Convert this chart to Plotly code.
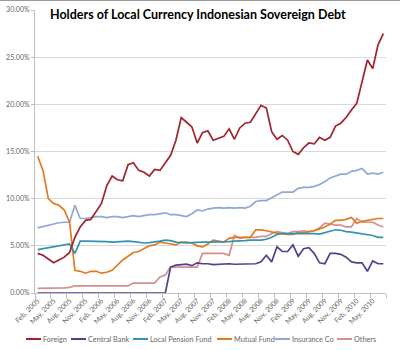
import plotly.graph_objects as go

# ---------------- data (percent of total holdings) ----------------
month_names = ["Jan", "Feb", "Mar", "Apr", "May", "Jun", "Jul", "Aug", "Sep", "Oct", "Nov", "Dec"]
months = []
for k in range(66):
    m = (1 + k) % 12
    y = 2005 + (1 + k) // 12
    months.append(f"{month_names[m]}, {y}")

foreign = [4.2, 4.0, 3.6, 3.2, 3.5, 3.8, 4.3, 5.9, 7.0, 7.7, 7.8, 8.6, 9.5, 11.4, 12.4, 12.0,
           11.9, 13.6, 13.8, 13.0, 12.8, 12.4, 13.1, 13.0, 13.8, 14.6, 16.2, 18.6, 18.1, 17.6,
           15.9, 17.0, 17.2, 16.2, 16.4, 16.6, 17.4, 16.3, 17.5, 18.0, 18.1, 19.0, 19.9, 19.6,
           17.1, 16.3, 16.7, 16.2, 15.0, 14.7, 15.4, 15.9, 15.8, 16.5, 16.2, 16.5, 17.7, 18.0,
           18.6, 19.4, 20.1, 22.4, 24.7, 23.8, 26.3, 27.5]
central_bank = [0.0] * 25 + [2.75, 2.95, 3.0, 3.05, 2.9, 3.2, 3.1, 3.1, 3.0, 3.05, 3.1, 3.1,
                             3.05, 3.05, 3.1, 3.1, 3.1, 3.3, 4.0, 3.3, 4.9, 4.4, 4.4, 5.1, 3.9,
                             4.7, 4.8, 4.2, 3.2, 3.1, 4.2, 4.2, 4.1, 3.8, 3.3, 3.2, 3.2, 2.3,
                             3.4, 3.1, 3.1]
local_pension = [4.6, 4.7, 4.8, 4.9, 5.0, 5.1, 5.2, 4.2, 5.5, 5.5, 5.5, 5.5, 5.45, 5.45, 5.4,
                 5.45, 5.5, 5.5, 5.45, 5.4, 5.3, 5.35, 5.4, 5.5, 5.6, 5.55, 5.4, 5.35, 5.3,
                 5.35, 5.4, 5.4, 5.4, 5.4, 5.4, 5.45, 5.45, 5.5, 5.5, 5.55, 5.6, 5.6, 5.6, 5.7,
                 5.9, 6.2, 6.3, 6.3, 6.3, 6.35, 6.35, 6.35, 6.3, 6.25, 6.4, 6.55, 6.7, 6.65,
                 6.5, 6.45, 6.35, 6.3, 6.2, 6.1, 5.9, 5.9]
mutual_fund = [14.5, 13.0, 10.0, 9.5, 9.3, 8.8, 7.5, 2.4, 2.3, 2.1, 2.3, 2.3, 2.1, 2.2, 2.4,
               3.0, 3.5, 3.9, 4.3, 4.4, 4.7, 5.0, 5.1, 5.4, 5.3, 5.2, 5.1, 5.4, 5.4, 5.3, 5.0,
               4.9, 5.2, 5.6, 5.5, 5.4, 5.8, 5.9, 5.9, 5.9, 5.9, 6.7, 6.7, 6.6, 6.45, 6.35,
               6.3, 6.2, 6.2, 6.4, 6.4, 6.5, 6.6, 6.8, 7.0, 7.3, 7.7, 7.7, 7.8, 8.0, 7.4, 7.6,
               7.7, 7.8, 7.9, 7.9]
insurance = [6.9, 7.05, 7.2, 7.35, 7.45, 7.5, 7.5, 9.3, 7.9, 7.9, 8.0, 8.1, 8.1, 8.0, 8.1,
             8.1, 8.0, 8.1, 8.2, 8.1, 8.2, 8.3, 8.3, 8.4, 8.5, 8.3, 8.3, 8.2, 8.1, 8.4, 8.8,
             8.7, 8.9, 9.0, 9.05, 9.0, 9.05, 9.0, 9.05, 9.0, 9.2, 9.7, 9.8, 9.8, 10.1, 10.4,
             10.7, 10.7, 10.7, 11.1, 11.2, 11.2, 11.3, 11.5, 11.8, 12.2, 12.4, 12.6, 12.6,
             12.9, 13.0, 13.2, 12.6, 12.7, 12.6, 12.8]
others = [0.5, 0.5, 0.5, 0.5, 0.5, 0.55, 0.6, 0.75, 0.75, 0.75, 0.75, 0.75, 0.75, 0.75, 0.75,
          0.75, 0.75, 0.75, 1.05, 1.05, 1.05, 1.05, 1.05, 1.7, 1.9, 2.75, 2.75, 2.8, 2.75,
          2.75, 2.75, 4.2, 4.2, 4.2, 4.2, 4.2, 4.0, 6.1, 5.8, 5.9, 5.9, 5.9, 6.0, 6.0, 6.3,
          6.5, 6.4, 6.3, 6.5, 6.5, 6.6, 6.5, 6.6, 6.9, 7.4, 7.3, 7.2, 7.2, 7.0, 7.0, 7.9,
          7.5, 7.5, 7.5, 7.2, 7.0]

series_names = ["Foreign", "Central Bank", "Local Pension Fund", "Mutual Fund", "Insurance Co", "Others"]
series_values = [foreign, central_bank, local_pension, mutual_fund, insurance, others]
colors = ["#A1232B", "#54408C", "#2F95B0", "#E47A1E", "#8EA9D6", "#D4908F"]
tick_labels = months[::3]
y_ticks = [0, 0.05, 0.10, 0.15, 0.20, 0.25, 0.30]

# ---------------- figure ----------------
W, H = 400, 350
x_idx = list(range(len(months)))

fig = go.Figure()
# draw in an order so foreign stays on top
draw_order = [4, 5, 3, 2, 1, 0]
for i in draw_order:
    fig.add_trace(go.Scatter(
        x=x_idx, y=[v / 100 for v in series_values[i]], mode="lines",
        name=series_names[i], line=dict(color=colors[i], width=1.7),
        showlegend=False,
        customdata=months, hovertemplate="%{customdata}: %{y:.2%}<extra>" + series_names[i] + "</extra>",
    ))

plot_l, plot_r, plot_t, plot_b = 35, 386, 10, 293
fig.update_layout(
    width=W, height=H,
    margin=dict(l=0, r=0, t=0, b=0),
    paper_bgcolor="white", plot_bgcolor="white",
    font=dict(family="Lato, 'Open Sans', sans-serif", color="#595959"),
    title=dict(text="<b>Holders of Local Currency Indonesian Sovereign Debt</b>",
               x=50 / W, xanchor="left", xref="container",
               y=1 - 15 / H, yanchor="middle", yref="container",
               font=dict(size=12.5, color="black", family="Lato, 'Open Sans', sans-serif")),
    xaxis=dict(
        domain=[plot_l / W, plot_r / W],
        range=[-0.5, len(months) - 0.5],
        tickvals=x_idx[::3], ticktext=tick_labels,
        tickangle=-45, tickfont=dict(size=7, color="#666666"),
        ticks="", showgrid=False, zeroline=False,
        showline=True, linecolor="#BFBFBF", linewidth=1,
        minor=dict(ticks="outside", tick0=-0.5, dtick=3, ticklen=4, tickcolor="#BFBFBF", showgrid=False),
        automargin=False,
    ),
    yaxis=dict(
        domain=[1 - plot_b / H, 1 - plot_t / H],
        range=[0, 0.30], tickvals=y_ticks, tickformat=".2%",
        tickfont=dict(size=7, color="#666666"),
        showgrid=True, gridcolor="#D9D9D9", gridwidth=1,
        ticks="outside", ticklen=3, tickcolor="#BFBFBF",
        showline=True, linecolor="#BFBFBF", linewidth=1, zeroline=False,
        automargin=False,
    ),
)

# legend row (drawn from series names and colours)
leg_y = 1 - 339 / H
line_x0 = [26, 71, 133, 217, 275, 337]
for i, name in enumerate(series_names):
    x0 = line_x0[i]
    fig.add_shape(type="line", xref="paper", yref="paper",
                  x0=x0 / W, x1=(x0 + 15) / W, y0=leg_y, y1=leg_y,
                  line=dict(color=colors[i], width=2))
    fig.add_annotation(text=name, xref="paper", yref="paper", x=(x0 + 15) / W, y=leg_y,
                       xanchor="left", yanchor="middle", showarrow=False,
                       font=dict(size=7.3, color="#666666"))

# chart border at the top
fig.add_shape(type="line", xref="paper", yref="paper", x0=0, x1=1, y0=1, y1=1,
              line=dict(color="#9A9A9A", width=2))

fig.write_html("out.html")
